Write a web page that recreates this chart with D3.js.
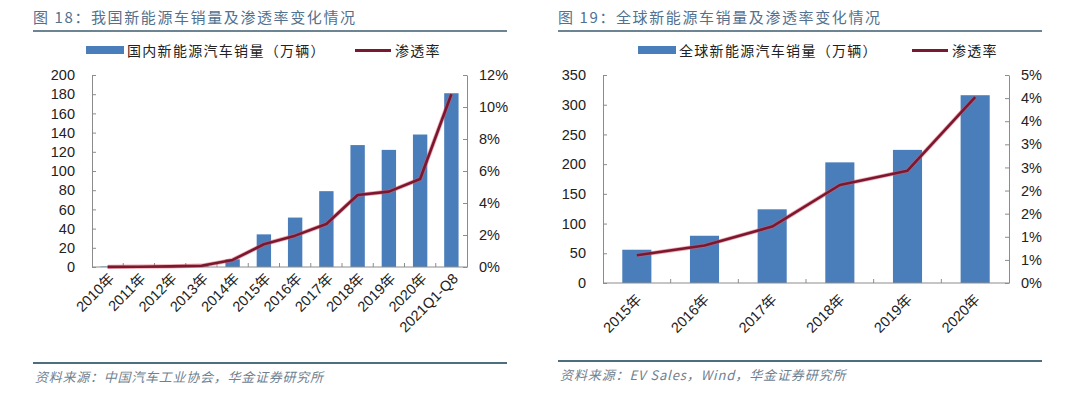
<!DOCTYPE html>
<html><head><meta charset="utf-8">
<script src="https://cdn.jsdelivr.net/npm/d3@7"></script>
<style>
html,body{margin:0;padding:0;background:#fff;}
svg{display:block;}
</style></head>
<body>
<svg id="c" width="1080" height="393"></svg>
<script>
// ---- data ----
const catsL = ["2010年","2011年","2012年","2013年","2014年","2015年","2016年","2017年","2018年","2019年","2020年","2021Q1-Q8"];
const salesL = [0.5, 0.8, 1.3, 1.8, 8, 34, 51.5, 79, 127, 122, 138, 181];
const rateL = [0.01, 0.02, 0.04, 0.08, 0.44, 1.42, 1.96, 2.69, 4.5, 4.71, 5.5, 10.8];
const yTicksL = [0,20,40,60,80,100,120,140,160,180,200];
const rTicksL = [0,2,4,6,8,10,12];

const catsR = ["2015年","2016年","2017年","2018年","2019年","2020年"];
const salesR = [56, 79.5, 124, 203, 224, 316];
const rateR = [0.6, 0.81, 1.22, 2.12, 2.43, 4.02];
const yTicksR = [0,50,100,150,200,250,300,350];
const rTicksR = [0,0.5,1,1.5,2,2.5,3,3.5,4,4.5];

const titleL = "图 18：我国新能源车销量及渗透率变化情况";
const titleR = "图 19：全球新能源车销量及渗透率变化情况";
const legendBarL = "国内新能源汽车销量（万辆）";
const legendBarR = "全球新能源汽车销量（万辆）";
const legendLine = "渗透率";
const sourceL = "资料来源：中国汽车工业协会，华金证券研究所";
const sourceR = "资料来源：EV Sales，Wind，华金证券研究所";

const svg = d3.select("#c");
const BAR = "#4a7ebb", LINE = "#7a1830", AX = "#8c8c8c", TXT = "#222";
const CJK = "'Noto Sans CJK SC', sans-serif";
const LAT = "'Liberation Sans', Arial, sans-serif";

function panel(o){
  const g = svg.append("g");
  // title
  g.append("text").attr("x", o.tx).attr("y", 23).attr("font-family", CJK)
    .attr("font-size", 15).attr("fill", "#52718f").attr("letter-spacing", 1.6).text(o.title);
  g.append("line").attr("x1", o.tx).attr("x2", o.tx2).attr("y1", 31).attr("y2", 31)
    .attr("stroke", "#3d5d6e").attr("stroke-width", 1.5);
  // footer
  g.append("line").attr("x1", o.tx).attr("x2", o.tx2).attr("y1", o.fy).attr("y2", o.fy)
    .attr("stroke", "#4d6e7c").attr("stroke-width", 1.8);
  g.append("text").attr("x", o.tx + 2).attr("y", o.fy + 19).attr("font-family", CJK)
    .attr("font-size", 13).attr("font-style", "italic").attr("fill", "#6f8190")
    .attr("letter-spacing", o.fls).text(o.source);

  // legend
  g.append("rect").attr("x", o.lgx).attr("y", 46).attr("width", 38).attr("height", 8).attr("fill", BAR);
  g.append("text").attr("x", o.lgx + 41).attr("y", 55.5).attr("font-family", CJK).attr("font-size", 14)
    .attr("fill", TXT).attr("letter-spacing", 1.3).text(o.legendBar);
  g.append("line").attr("x1", o.lgx2).attr("x2", o.lgx2 + 36).attr("y1", 50.5).attr("y2", 50.5)
    .attr("stroke", LINE).attr("stroke-width", 3);
  g.append("text").attr("x", o.lgx2 + 40).attr("y", 55.5).attr("font-family", CJK).attr("font-size", 14)
    .attr("fill", TXT).attr("letter-spacing", 1.3).text(legendLine);

  const x = d3.scaleBand().domain(o.cats).range([o.x0, o.x1]).paddingInner(o.pad).paddingOuter(o.pad/2);
  const xb = d3.scaleBand().domain(o.cats).range([o.x0, o.x1]);
  const y = d3.scaleLinear().domain([0, o.yMax]).range([o.yBot, o.yTop]);
  const yr = d3.scaleLinear().domain([0, o.rMax]).range([o.yBot, o.yTop]);

  // bars
  g.append("g").selectAll("rect").data(o.sales).join("rect")
    .attr("x", (d,i) => x(o.cats[i])).attr("width", x.bandwidth())
    .attr("y", d => y(d)).attr("height", d => o.yBot - y(d)).attr("fill", BAR);

  // left axis
  const la = g.append("g").attr("transform", `translate(${o.x0},0)`)
    .call(d3.axisLeft(y).tickValues(o.yTicks).tickSizeInner(-4).tickSizeOuter(0).tickPadding(17));
  // right axis
  const ra = g.append("g").attr("transform", `translate(${o.x1},0)`)
    .call(d3.axisRight(yr).tickValues(o.rTicks).tickSizeInner(-4).tickSizeOuter(0).tickPadding(12)
      .tickFormat(d => Math.round(d) + "%"));
  // bottom axis line + category ticks
  const ba = g.append("g");
  ba.append("line").attr("x1", o.x0).attr("x2", o.x1).attr("y1", o.yBot).attr("y2", o.yBot).attr("stroke", AX);
  ba.selectAll("line.t").data(o.cats.slice(1)).join("line").attr("class","t")
    .attr("x1", d => xb(d)).attr("x2", d => xb(d)).attr("y1", o.yBot).attr("y2", o.yBot - 4).attr("stroke", AX);
  [la, ra].forEach(a => {
    a.selectAll(".domain").attr("stroke", AX);
    a.selectAll(".tick line").attr("stroke", AX);
    a.selectAll("text").attr("font-family", LAT).attr("font-size", 14.5).attr("fill", TXT);
  });

  // x labels
  g.append("g").selectAll("text").data(o.cats).join("text")
    .attr("transform", d => `translate(${xb(d) + xb.bandwidth()/2 + o.lxo},${o.yBot + o.lyo}) rotate(-45)`)
    .attr("text-anchor", "end").attr("dy", "0.35em")
    .attr("font-family", LAT).attr("font-size", o.xfs).attr("fill", TXT)
    .each(function(d){
      const t = d3.select(this);
      const m = d.match(/^(\d+)(年)$/);
      if (m) { t.append("tspan").text(m[1]); t.append("tspan").attr("font-family", CJK).text(m[2]); }
      else t.text(d);
    });

  // line
  const line = d3.line().x((d,i) => xb(o.cats[i]) + xb.bandwidth()/2).y(d => yr(d));
  g.append("path").datum(o.rate).attr("d", line).attr("fill", "none")
    .attr("stroke", "#e05a6a").attr("stroke-width", 4.2).attr("stroke-opacity", 0.55).attr("stroke-linejoin", "round");
  g.append("path").datum(o.rate).attr("d", line).attr("fill", "none")
    .attr("stroke", LINE).attr("stroke-width", 2.6).attr("stroke-linejoin", "round");
}

panel({title: titleL, tx: 33, tx2: 507, fy: 363, source: sourceL, fls: 0.75,
  lgx: 86, lgx2: 355, legendBar: legendBarL,
  cats: catsL, sales: salesL, rate: rateL, yTicks: yTicksL, rTicks: rTicksL,
  yMax: 200, rMax: 12, x0: 92, x1: 467, yTop: 75, yBot: 267, pad: 0.54,
  lxo: 4, lyo: 9, xfs: 14.5});

panel({title: titleR, tx: 558, tx2: 1042, fy: 361, source: sourceR, fls: 0.9,
  lgx: 638, lgx2: 912, legendBar: legendBarR,
  cats: catsR, sales: salesR, rate: rateR, yTicks: yTicksR, rTicks: rTicksR,
  yMax: 350, rMax: 4.5, x0: 603, x1: 1009, yTop: 75, yBot: 283, pad: 0.57,
  lxo: 2, lyo: 14, xfs: 14.5});
</script>
</body></html>
